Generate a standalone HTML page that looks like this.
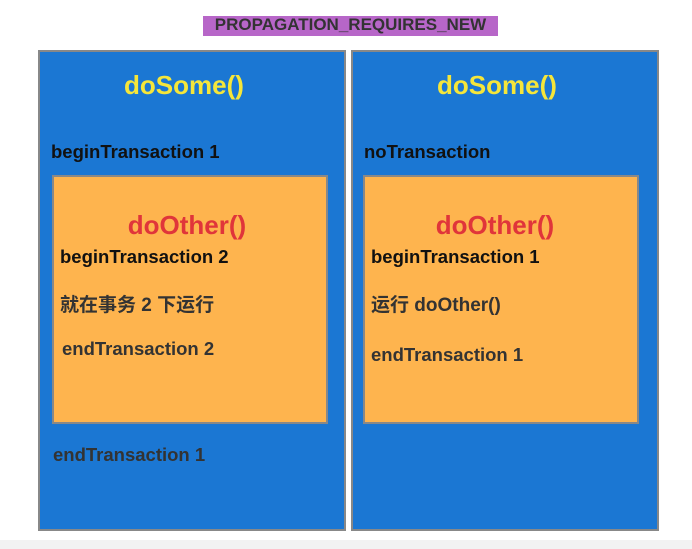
<!DOCTYPE html>
<html><head><meta charset="utf-8"><style>
body{margin:0;width:692px;height:549px;background:#fff;position:relative;overflow:hidden;font-family:"Liberation Sans","Noto Sans CJK SC",sans-serif;font-weight:bold}
div{position:absolute;box-sizing:border-box}
.t{white-space:nowrap;line-height:1}
.blue{background:#1b77d3;border:2px solid #888}
.or{background:#feb44e;border:2px solid #888}
.k{font-size:18.5px;color:#111}
.y{font-size:26px;color:#f5e63a}
.r{font-size:26px;color:#e0353a}
</style></head><body>
<div style="left:203px;top:16px;width:295px;height:20px;background:#b766c8"></div>
<div class="t" style="left:203px;top:16px;width:295px;text-align:center;font-size:17px;color:#333">PROPAGATION_REQUIRES_NEW</div>

<div class="blue" style="left:38px;top:50px;width:308px;height:481px"></div>
<div class="blue" style="left:351px;top:50px;width:308px;height:481px"></div>
<div class="or" style="left:52px;top:175px;width:276px;height:249px"></div>
<div class="or" style="left:363px;top:175px;width:276px;height:249px"></div>

<div class="t y" style="left:38px;top:72px;width:292px;text-align:center">doSome()</div>
<div class="t y" style="left:351px;top:72px;width:292px;text-align:center">doSome()</div>

<div class="t k" style="left:51px;top:143px">beginTransaction 1</div>
<div class="t k" style="left:364px;top:143px">noTransaction</div>

<div class="t r" style="left:52px;top:212px;width:270px;text-align:center">doOther()</div>
<div class="t r" style="left:363px;top:212px;width:264px;text-align:center">doOther()</div>

<div class="t k" style="left:60px;top:248px">beginTransaction 2</div>
<div class="t k" style="left:371px;top:248px">beginTransaction 1</div>

<div class="t k" style="left:60px;top:296px;color:#333;font-size:19px">就在事务 2 下运行</div>
<div class="t k" style="left:371px;top:296px;color:#333;font-size:19px">运行 doOther()</div>

<div class="t k" style="left:62px;top:340px;color:#333">endTransaction 2</div>
<div class="t k" style="left:371px;top:346px;color:#333">endTransaction 1</div>

<div class="t k" style="left:53px;top:446px;color:#333">endTransaction 1</div>

<div style="left:0;top:540px;width:692px;height:9px;background:#f2f2f2"></div>
</body></html>
